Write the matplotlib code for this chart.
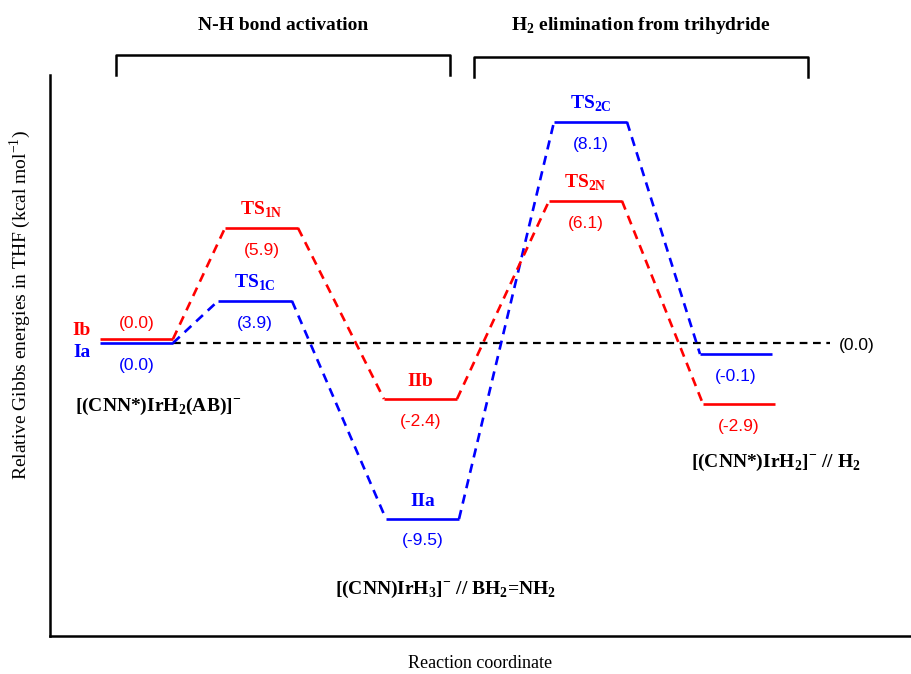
import matplotlib.pyplot as plt

plt.rcParams['mathtext.fontset'] = 'custom'
plt.rcParams['mathtext.rm'] = 'Liberation Serif'
plt.rcParams['mathtext.bf'] = 'Liberation Serif:bold'

# Level positions (drawing units, y grows downward)
blue_x0 = [100, 218, 386, 554, 700]
blue_x1 = [173, 292, 459, 627, 772]
blue_h = [343, 301, 519, 122, 354]
blue_energy = ['(0.0)', '(3.9)', '(-9.5)', '(8.1)', '(-0.1)']
blue_names = ['Ia', r'TS$_\mathbf{1C}$', 'IIa', r'TS$_\mathbf{2C}$', '']

red_x0 = [100, 225, 384, 549, 703]
red_x1 = [173, 298, 457, 622, 775]
red_h = [339, 228, 399, 201, 404]
red_energy = ['(0.0)', '(5.9)', '(-2.4)', '(6.1)', '(-2.9)']
red_names = ['Ib', r'TS$_\mathbf{1N}$', 'IIb', r'TS$_\mathbf{2N}$', '']

ref_x = [173, 830]
ref_h = 343

BLUE = '#0000ff'
RED = '#ff0000'

fig = plt.figure(figsize=(9.11, 6.74), dpi=100)
W, H = 911, 674
left, right, top, bottom = 50, 910, 75, 636
ax = fig.add_axes([left / W, 1 - bottom / H, (right - left) / W, (bottom - top) / H])
ax.set_xlim(left, right)
ax.set_ylim(bottom, top)
ax.set_xticks([])
ax.set_yticks([])
for s in ['top', 'right']:
    ax.spines[s].set_visible(False)
for s in ['left', 'bottom']:
    ax.spines[s].set_linewidth(1.8)

serif = 'Liberation Serif'
sans = 'Liberation Sans'


def draw_path(x0, x1, h, color, names, energies, first_value_above=False):
    for i in range(len(h)):
        ax.plot([x0[i], x1[i]], [h[i], h[i]], color=color, lw=1.9,
                solid_capstyle='butt', zorder=3)
        if i > 0:
            ax.plot([x1[i - 1], x0[i]], [h[i - 1], h[i]], color=color, lw=1.9,
                    ls=(0, (3.5, 2.5)), zorder=2)
        cx = (x0[i] + x1[i]) / 2
        if i == 0:
            dy = -16 if first_value_above else 22
        else:
            dy = 22
        ax.text(cx, h[i] + dy, energies[i], color=color, fontsize=12.5,
                family=sans, ha='center', va='center')
        if i > 0 and names[i]:
            ax.text(cx, h[i] - 18, names[i], color=color, fontsize=14,
                    family=serif, weight='bold', ha='center', va='center')


# reference line at zero
ax.plot(ref_x, [ref_h, ref_h], color='black', lw=1.6, ls=(0, (3.5, 2.5)), zorder=1)
ax.text(857, ref_h + 2, '(0.0)', fontsize=12.5, family=sans, ha='center', va='center')

draw_path(blue_x0, blue_x1, blue_h, BLUE, blue_names, blue_energy)
draw_path(red_x0, red_x1, red_h, RED, red_names, red_energy, first_value_above=True)

ax.text(82, red_h[0] - 9, red_names[0], color=RED, fontsize=14, family=serif,
        weight='bold', ha='center', va='center')
ax.text(82, blue_h[0] + 9, blue_names[0], color=BLUE, fontsize=14, family=serif,
        weight='bold', ha='center', va='center')

# complex labels
lab_kw = dict(fontsize=14, family=serif, weight='bold', ha='center', va='center',
              clip_on=False)
ax.text(158, 406, r'[(CNN*)IrH$_\mathbf{2}$(AB)]$^\mathbf{-}$', **lab_kw)
ax.text(445, 589, r'[(CNN)IrH$_\mathbf{3}$]$^\mathbf{-}$ // BH$_\mathbf{2}$=NH$_\mathbf{2}$', **lab_kw)
ax.text(776, 462, r'[(CNN*)IrH$_\mathbf{2}$]$^\mathbf{-}$ // H$_\mathbf{2}$', **lab_kw)

# stage brackets
brackets = [(116, 450, 55, 'N-H bond activation'),
            (474, 808, 57, r'H$_\mathbf{2}$ elimination from trihydride')]
for bx0, bx1, by, title in brackets:
    ax.plot([bx0, bx0, bx1, bx1], [by + 20, by, by, by + 20], color='black',
            lw=1.8, clip_on=False)
    ax.text((bx0 + bx1) / 2, 25, title, fontsize=14, family=serif, weight='bold',
            ha='center', va='center', clip_on=False)

ax.text(20, 305, r'Relative Gibbs energies in THF (kcal mol$^{-1}$)', fontsize=14,
        family=serif, rotation=90, ha='center', va='center', clip_on=False)
ax.text(480, 663, 'Reaction coordinate', fontsize=13, family=serif,
        ha='center', va='center', clip_on=False)

fig.savefig('out.png', dpi=100)
